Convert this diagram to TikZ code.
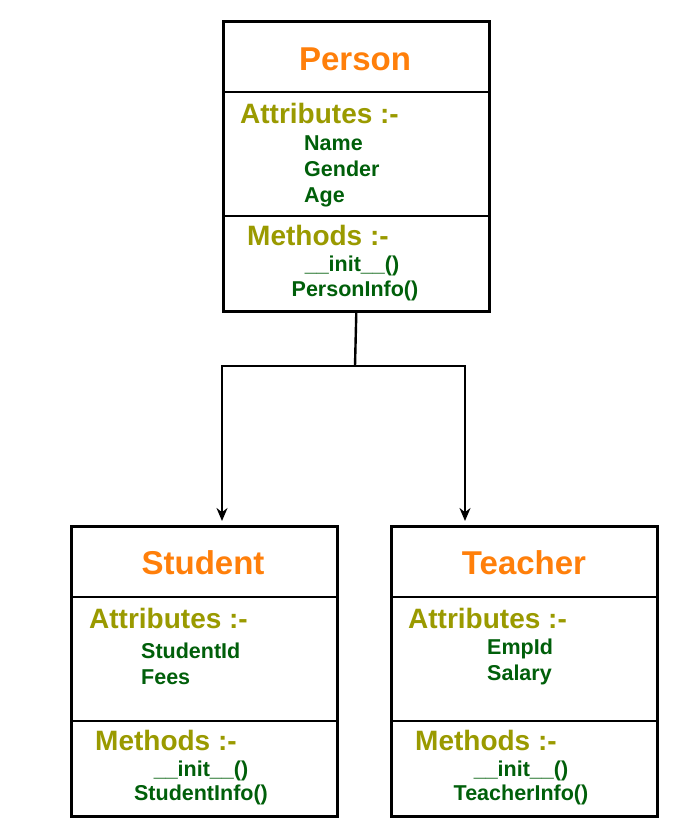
\documentclass[tikz,border=0pt]{standalone}
\usepackage{fontspec}
\setmainfont{Liberation Sans}
\usetikzlibrary{arrows.meta,calc}
\definecolor{titleOrange}{HTML}{FF7F0A}
\definecolor{sectionOlive}{HTML}{9A9A00}
\definecolor{memberGreen}{HTML}{005F0A}
\definecolor{lineBlack}{HTML}{000000}
\newcommand{\classrules}[1]{%
  \draw[rule] ([yshift=-72pt]#1.north west) -- ([yshift=-72pt]#1.north east);
  \draw[rule] ([yshift=-196pt]#1.north west) -- ([yshift=-196pt]#1.north east);}

\begin{document}
\begin{tikzpicture}[
  x=1pt, y=1pt,
  >={Stealth[length=13pt,width=11pt]},
  classbox/.style={
    draw=lineBlack,
    fill=white,
    line width=2.6pt,
    minimum width=266pt,
    minimum height=290pt,
    inner sep=0pt,
    anchor=north west
  },
  rule/.style={draw=lineBlack, line width=2.6pt},
  title/.style={
    text=titleOrange,
    font=\fontsize{33}{36}\selectfont\bfseries,
    inner sep=0pt,
    anchor=base
  },
  section/.style={
    text=sectionOlive,
    font=\fontsize{28}{30}\selectfont\bfseries,
    inner sep=0pt,
    anchor=base west
  },
  member/.style={
    text=memberGreen,
    font=\fontsize{21.5}{24}\selectfont\bfseries,
    inner sep=0pt,
    anchor=base west
  },
  method/.style={member, anchor=base},
  link/.style={draw=lineBlack, line width=2.4pt},
  flow/.style={->, draw=lineBlack, line width=2.4pt}
]
\useasboundingbox (0,0) rectangle (683,-827);

% Class boxes.
\node[classbox] (person) at (222,-20) {};
\node[classbox] (student) at (70,-525) {};
\node[classbox] (teacher) at (390,-525) {};
\classrules{person}
\classrules{student}
\classrules{teacher}

% Person class.
\node[title] (person-name) at (355,-70) {Person};
\node[section] (person-attr) at (240,-123) {Attributes :-};
\node[member] (person-a1) at (304,-150) {Name};
\node[member] (person-a2) at (304,-176) {Gender};
\node[member] (person-a3) at (304,-202) {Age};
\node[section] (person-meth) at (247,-245) {Methods :-};
\node[method] (person-m1) at (352,-271) {\_\_init\_\_()};
\node[method] (person-m2) at (355,-296) {PersonInfo()};

% Student class.
\node[title] (student-name) at (203,-574) {Student};
\node[section] (student-attr) at (89,-628) {Attributes :-};
\node[member] (student-a1) at (141,-658) {StudentId};
\node[member] (student-a2) at (141,-684) {Fees};
\node[section] (student-meth) at (95,-750) {Methods :-};
\node[method] (student-m1) at (201,-776) {\_\_init\_\_()};
\node[method] (student-m2) at (201,-800) {StudentInfo()};

% Teacher class.
\node[title] (teacher-name) at (524,-574) {Teacher};
\node[section] (teacher-attr) at (408,-628) {Attributes :-};
\node[member] (teacher-a1) at (487,-654) {EmpId};
\node[member] (teacher-a2) at (487,-680) {Salary};
\node[section] (teacher-meth) at (415,-750) {Methods :-};
\node[method] (teacher-m1) at (521,-776) {\_\_init\_\_()};
\node[method] (teacher-m2) at (521,-800) {TeacherInfo()};

% Inheritance connectors.
\coordinate (split) at (355,-366);
\coordinate (student-in) at (222,-521);
\coordinate (teacher-in) at (465,-521);
\draw[link] (person.south) -- (split);
\draw[flow] (split) -| (student-in);
\draw[flow] (split) -| (teacher-in);

\end{tikzpicture}
\end{document}
